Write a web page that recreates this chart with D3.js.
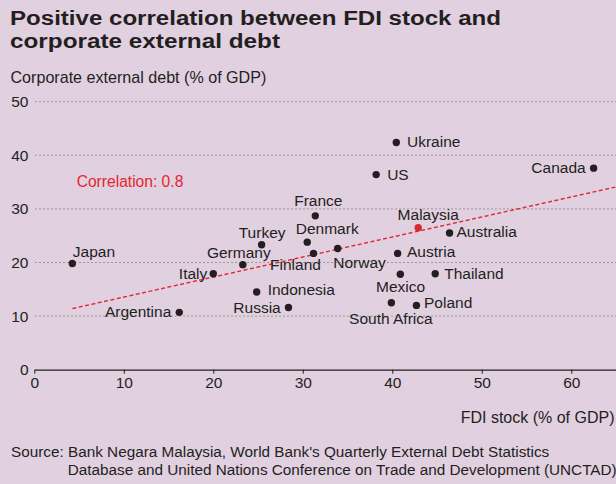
<!DOCTYPE html>
<html>
<head>
<meta charset="utf-8">
<script src="https://cdn.jsdelivr.net/npm/d3@7"></script>
<style>
  html, body { margin: 0; padding: 0; background: #e1d0e0; }
  svg { display: block; font-family: "Liberation Sans", Arial, Helvetica, sans-serif; }
</style>
</head>
<body>
<svg id="chart" width="616" height="484"></svg>
<script>
// ---- Data ----
const countries = ["Japan","Italy","Germany","Turkey","Denmark","France","Finland","Norway","Indonesia","Russia","Argentina","Malaysia","Australia","Austria","Mexico","Thailand","South Africa","Poland","Ukraine","US","Canada"];
const fdiStock  = [4.25, 20.0, 23.3, 25.4, 30.5, 31.4, 31.2, 33.9, 24.85, 28.4, 16.2, 42.9, 46.4, 40.6, 40.9, 44.8, 39.9, 42.7, 40.45, 38.2, 62.5];
const extDebt   = [19.8, 17.9, 19.6, 23.3, 23.8, 28.7, 21.7, 22.6, 14.5, 11.6, 10.7, 26.5, 25.5, 21.7, 17.8, 17.9, 12.5, 12.0, 42.4, 36.4, 37.6];
const highlight = "Malaysia";
const trendFdi  = [4.25, 65];
const trendDebt = [11.4, 34.1];
const xTicks = [0, 10, 20, 30, 40, 50, 60];
const yTicks = [0, 10, 20, 30, 40, 50];
const titleLines = ["Positive correlation between FDI stock and", "corporate external debt"];
const yAxisTitle = "Corporate external debt (% of GDP)";
const xAxisTitle = "FDI stock (% of GDP)";
const corrLabel = "Correlation: 0.8";
const sourceLines = ["Source: Bank Negara Malaysia, World Bank's Quarterly External Debt Statistics",
                     "Database and United Nations Conference on Trade and Development (UNCTAD)"];

// ---- Layout (not data) ----
const titleWidths = [491, 270];
const labelPos = {
  "Japan": ["start", 0.5, -7],
  "Italy": ["end", -6, 5],
  "Germany": ["middle", -4, -6.6],
  "Turkey": ["middle", 0.5, -7],
  "Denmark": ["start", -11.5, -7.7],
  "France": ["middle", 3, -10],
  "Finland": ["end", 7.4, 16.6],
  "Norway": ["start", -4.4, 19],
  "Indonesia": ["start", 11, 3.5],
  "Russia": ["end", -7.7, 5],
  "Argentina": ["end", -8, 5],
  "Malaysia": ["start", -20.6, -7.7],
  "Australia": ["start", 7, 4.4],
  "Austria": ["start", 9.4, 4],
  "Mexico": ["start", -24.3, 17.7],
  "Thailand": ["start", 9, 5],
  "South Africa": ["start", -42.3, 21.6],
  "Poland": ["start", 7.6, 3],
  "Ukraine": ["start", 10.7, 5],
  "US": ["start", 11, 5],
  "Canada": ["end", -8, 5.3]
};

const TEXT = "#231f20", RED = "#e3262f";
const svg = d3.select("#chart");

const x = d3.scaleLinear().domain([0, 65]).range([34.3, 616]);
const y = d3.scaleLinear().domain([0, 50]).range([369.7, 101.7]);

// Title
svg.append("g").selectAll("text").data(titleLines).join("text")
  .attr("x", 10).attr("y", (d, i) => 25 + i * 23.3)
  .attr("font-size", 20).attr("font-weight", "bold").attr("fill", TEXT)
  .attr("textLength", (d, i) => titleWidths[i]).attr("lengthAdjust", "spacingAndGlyphs")
  .text(d => d);

// Y axis title
svg.append("text").attr("x", 10.5).attr("y", 83).attr("font-size", 16.1).attr("fill", TEXT).text(yAxisTitle);

// Gridlines
svg.append("g").selectAll("line").data(yTicks.filter(d => d > 0)).join("line")
  .attr("x1", 35).attr("x2", 616)
  .attr("y1", d => y(d)).attr("y2", d => y(d))
  .attr("stroke", "#999").attr("stroke-width", 1).attr("stroke-dasharray", "2,2");

// Y tick labels
svg.append("g").selectAll("text").data(yTicks).join("text")
  .attr("x", 28.5).attr("y", d => y(d)).attr("dy", "0.35em")
  .attr("text-anchor", "end").attr("font-size", 15.5).attr("fill", TEXT)
  .text(d => d);

// X axis
const xAxis = svg.append("g").attr("transform", `translate(0,${y(0)})`)
  .call(d3.axisBottom(x).tickValues(xTicks).tickSizeInner(4).tickSizeOuter(0).tickPadding(3.5));
xAxis.select(".domain").attr("stroke", TEXT).attr("stroke-width", 1.2);
xAxis.selectAll(".tick line").attr("stroke", TEXT);
xAxis.selectAll(".tick text").attr("font-size", 15.5).attr("fill", TEXT)
  .attr("font-family", "Liberation Sans, Arial, sans-serif");

// X axis title
svg.append("text").attr("x", 614.5).attr("y", 423.3).attr("text-anchor", "end")
  .attr("font-size", 16).attr("fill", TEXT).text(xAxisTitle);

// Trend line
const trend = trendFdi.map((v, i) => [v, trendDebt[i]]);
svg.append("path").datum(trend)
  .attr("d", d3.line().x(d => x(d[0])).y(d => y(d[1])))
  .attr("fill", "none").attr("stroke", RED).attr("stroke-width", 1.4).attr("stroke-dasharray", "4,2.5");

// Correlation label
svg.append("text").attr("x", 76.7).attr("y", 187.3).attr("font-size", 15.6).attr("fill", RED).text(corrLabel);

// Points
const pts = countries.map((c, i) => ({ name: c, fx: fdiStock[i], dy: extDebt[i] }));
svg.append("g").selectAll("circle").data(pts).join("circle")
  .attr("cx", d => x(d.fx)).attr("cy", d => y(d.dy)).attr("r", 3.7)
  .attr("fill", d => d.name === highlight ? "#d42a30" : TEXT);

// Point labels
svg.append("g").selectAll("text").data(pts).join("text")
  .attr("x", d => x(d.fx) + labelPos[d.name][1])
  .attr("y", d => y(d.dy) + labelPos[d.name][2])
  .attr("text-anchor", d => labelPos[d.name][0])
  .attr("font-size", 15.5).attr("fill", TEXT)
  .text(d => d.name);

// Source
svg.append("g").selectAll("text").data(sourceLines).join("text")
  .attr("x", (d, i) => i === 0 ? 11 : 67.7).attr("y", (d, i) => 457.3 + i * 17.7)
  .attr("font-size", 15.3).attr("fill", TEXT).text(d => d);
</script>
</body>
</html>
